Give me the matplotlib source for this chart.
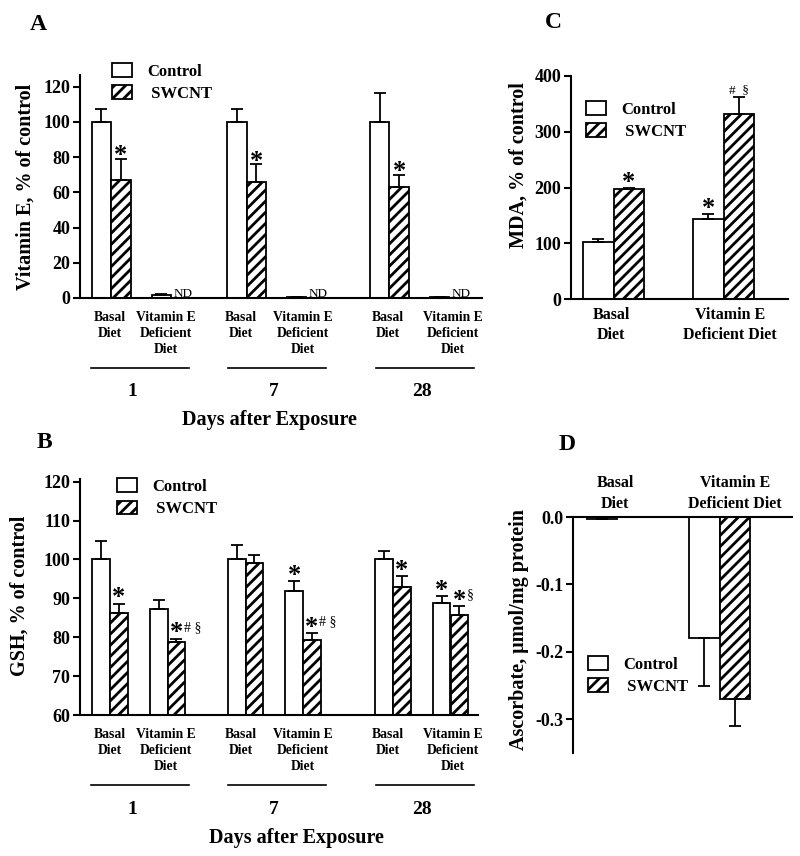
import numpy as np
import matplotlib
matplotlib.use('Agg')
import matplotlib.pyplot as plt
from matplotlib.patches import Patch
from matplotlib.lines import Line2D

plt.rcParams['font.family'] = ['Liberation Serif', 'DejaVu Serif']
plt.rcParams['font.weight'] = 'bold'
plt.rcParams['hatch.linewidth'] = 2.0
plt.rcParams['axes.linewidth'] = 1.5

# ---- data ----
days = ['1', '7', '28']
diet_labels = ['Basal\nDiet', 'Vitamin E\nDeficient\nDiet']

# A: vitamin E, % of control
vite_ctrl_basal = [100, 100, 100]
vite_ctrl_basal_err = [7.4, 7.4, 16.5]
vite_swcnt_basal = [67, 66, 63]
vite_swcnt_basal_err = [12, 10, 7]
vite_ctrl_def = [1.5, 0.3, 0.3]
vite_ctrl_def_err = [0.6, 0, 0]
# SWCNT + vitamin E deficient diet: ND (not detected)

# B: GSH, % of control
gsh_ctrl_basal = [100, 100, 100]
gsh_ctrl_basal_err = [4.7, 3.6, 2.1]
gsh_swcnt_basal = [86.3, 99.2, 92.8]
gsh_swcnt_basal_err = [2.3, 1.9, 3.0]
gsh_ctrl_def = [87.3, 91.8, 88.8]
gsh_ctrl_def_err = [2.4, 2.6, 1.7]
gsh_swcnt_def = [78.8, 79.2, 85.7]
gsh_swcnt_def_err = [0.8, 1.9, 2.3]

# C: MDA, % of control
mda_diets = ['Basal\nDiet', 'Vitamin E\nDeficient Diet']
mda_ctrl = [102, 143]
mda_ctrl_err = [5, 10]
mda_swcnt = [197, 332]
mda_swcnt_err = [3, 30]

# D: ascorbate, umol/mg protein
asc_ctrl = [-0.003, -0.18]
asc_ctrl_err = [0, 0.07]
asc_swcnt = [0, -0.27]
asc_swcnt_err = [0, 0.04]

# ---- layout helpers (pixel based) ----
W, H = 800, 856
fig = plt.figure(figsize=(W / 100, H / 100), dpi=100)


def px_axes(left, top, right, bottom):
    ax = fig.add_axes([left / W, 1 - bottom / H, (right - left) / W, (bottom - top) / H])
    ax.set_xlim(left, right)
    return ax


def ftext(x, y, s, **kw):
    fig.text(x / W, 1 - y / H, s, **kw)


def fline(x0, x1, y):
    fig.add_artist(Line2D([x0 / W, x1 / W], [1 - y / H, 1 - y / H],
                          transform=fig.transFigure, color='black', lw=1.2))


def bars(ax, x, vals, errs, w, hatch=None, down=False):
    ax.bar(x, vals, w, color='white', edgecolor='black', lw=1.3, hatch=hatch, zorder=2)
    z = [0] * len(errs)
    yerr = [errs, z] if down else [z, errs]
    ax.errorbar(x, vals, yerr=yerr, fmt='none', ecolor='black', elinewidth=1.3,
                capsize=4, capthick=1.3, zorder=3)


def star(ax, x, y, dy, extra=None, size=19):
    ax.annotate('*', (x, y), xytext=(0, dy), textcoords='offset points',
                ha='center', va='baseline', fontsize=size, fontweight='bold')
    if extra:
        ax.annotate(extra, (x, y), xytext=(5.5, dy + 6), textcoords='offset points',
                    ha='left', va='baseline', fontsize=10, fontweight='normal')


def style(ax, labelsize=13):
    for s in ['top', 'right']:
        ax.spines[s].set_visible(False)
    ax.set_xticks([])
    ax.tick_params(axis='y', direction='out', length=5, width=1.5, labelsize=labelsize, pad=2)


def legend(ax, x, y):
    handles = [Patch(facecolor='white', edgecolor='black', lw=1.3),
               Patch(facecolor='white', edgecolor='black', lw=1.3, hatch='///')]
    ax.legend(handles, ['Control', ' SWCNT'], loc='upper left',
              bbox_to_anchor=(x / W, 1 - y / H), bbox_transform=fig.transFigure,
              frameon=False, borderpad=0, borderaxespad=0, handlelength=1.2,
              handleheight=0.9, handletextpad=0.9, labelspacing=0.35,
              prop={'size': 12, 'weight': 'bold'})


def day_labels(axis_bottom):
    basal_x = [110, 241, 388]
    def_x = [166, 303, 453]
    spans = [(91, 189), (228, 326), (376, 474)]
    day_x = [132, 274, 422]
    for i in range(3):
        ftext(basal_x[i], axis_bottom + 13, diet_labels[0], ha='center', va='top',
              fontsize=9.8, linespacing=1.3)
        ftext(def_x[i], axis_bottom + 13, diet_labels[1], ha='center', va='top',
              fontsize=9.8, linespacing=1.3)
        fline(spans[i][0], spans[i][1], axis_bottom + 70)
        ftext(day_x[i], axis_bottom + 94, days[i], ha='center', va='center', fontsize=14)


# ---- Panel A ----
axA = px_axes(80, 75, 482, 298)
wA = 19.5
cA = np.array([111, 246.5, 389.5])
gapA = 60
bars(axA, cA - wA / 2, vite_ctrl_basal, vite_ctrl_basal_err, wA)
bars(axA, cA + wA / 2, vite_swcnt_basal, vite_swcnt_basal_err, wA, hatch='///')
bars(axA, cA + gapA - wA / 2, vite_ctrl_def, vite_ctrl_def_err, wA)
for i in range(3):
    star(axA, cA[i] + wA / 2, vite_swcnt_basal[i] + vite_swcnt_basal_err[i], -2.5)
    axA.annotate('ND', (cA[i] + gapA + wA / 2 + 2, 0), xytext=(0, 1), textcoords='offset points',
                 ha='center', va='baseline', fontsize=9.5, fontweight='normal')
axA.set_ylim(0, 126.7)
axA.set_yticks(range(0, 121, 20))
style(axA)
legend(axA, 112, 63)
day_labels(298)
ftext(269, 420, 'Days after Exposure', ha='center', va='center', fontsize=14.5)
ftext(26, 187, 'Vitamin E, % of control', rotation=90, ha='center', va='center', fontsize=14.5)
ftext(38, 25, 'A', ha='center', va='center', fontsize=17)

# ---- Panel B ----
axB = px_axes(80, 479, 478, 715)
wB = 17.7
cB = np.array([110, 245.5, 393])
gapB = 57.5
bars(axB, cB - wB / 2, gsh_ctrl_basal, gsh_ctrl_basal_err, wB)
bars(axB, cB + wB / 2, gsh_swcnt_basal, gsh_swcnt_basal_err, wB, hatch='///')
bars(axB, cB + gapB - wB / 2, gsh_ctrl_def, gsh_ctrl_def_err, wB)
bars(axB, cB + gapB + wB / 2, gsh_swcnt_def, gsh_swcnt_def_err, wB, hatch='///')
sw_b_top = np.add(gsh_swcnt_basal, gsh_swcnt_basal_err)
ct_d_top = np.add(gsh_ctrl_def, gsh_ctrl_def_err)
sw_d_top = np.add(gsh_swcnt_def, gsh_swcnt_def_err)
star(axB, cB[0] + wB / 2, sw_b_top[0], -0.5)
star(axB, cB[2] + wB / 2, sw_b_top[2], -0.5)
star(axB, cB[1] + gapB - wB / 2, ct_d_top[1], -0.5)
star(axB, cB[2] + gapB - wB / 2, ct_d_top[2], -0.5)
star(axB, cB[0] + gapB + wB / 2, sw_d_top[0], -0.5, extra='# §')
star(axB, cB[1] + gapB + wB / 2, sw_d_top[1], -0.5, extra='# §')
star(axB, cB[2] + gapB + wB / 2, sw_d_top[2], -0.5, extra='§')
axB.set_ylim(60, 120.7)
axB.set_yticks(range(60, 121, 10))
style(axB)
legend(axB, 117, 478)
day_labels(715)
ftext(296, 838, 'Days after Exposure', ha='center', va='center', fontsize=14.5)
ftext(20, 596, 'GSH, % of control', rotation=90, ha='center', va='center', fontsize=14.5)
ftext(44, 442, 'B', ha='center', va='center', fontsize=17)

# ---- Panel C ----
axC = px_axes(571, 76, 788, 299)
wC = 30.5
cC = np.array([613.5, 723.5])
bars(axC, cC - wC / 2, mda_ctrl, mda_ctrl_err, wC)
bars(axC, cC + wC / 2, mda_swcnt, mda_swcnt_err, wC, hatch='///')
star(axC, cC[0] + wC / 2, mda_swcnt[0] + mda_swcnt_err[0], -1)
star(axC, cC[1] - wC / 2, mda_ctrl[1] + mda_ctrl_err[1], -1)
axC.annotate('#  §', (cC[1] + wC / 2, mda_swcnt[1] + mda_swcnt_err[1]), xytext=(0, 3),
             textcoords='offset points', ha='center', va='baseline', fontsize=9.5,
             fontweight='normal')
axC.set_ylim(0, 400)
axC.set_yticks(range(0, 401, 100))
style(axC)
legend(axC, 586, 101)
ftext(611, 307, mda_diets[0], ha='center', va='top', fontsize=11.5, linespacing=1.35)
ftext(730, 307, mda_diets[1], ha='center', va='top', fontsize=11.5, linespacing=1.35)
ftext(519, 165, 'MDA, % of control', rotation=90, ha='center', va='center', fontsize=14.5)
ftext(553, 23, 'C', ha='center', va='center', fontsize=17)

# ---- Panel D ----
axD = px_axes(573, 517, 792, 753)
wD = 30.5
cD = np.array([617, 719.5])
bars(axD, cD - wD / 2, asc_ctrl, asc_ctrl_err, wD, down=True)
bars(axD, cD + wD / 2, asc_swcnt, asc_swcnt_err, wD, hatch='///', down=True)
axD.set_ylim(-0.35, 0)
axD.set_yticks([0, -0.1, -0.2, -0.3])
axD.set_yticklabels(['0.0', '-0.1', '-0.2', '-0.3'])
style(axD)
axD.spines['top'].set_visible(True)
axD.spines['bottom'].set_visible(False)
legend(axD, 588, 656)
ftext(615, 475, mda_diets[0], ha='center', va='top', fontsize=11.5, linespacing=1.4)
ftext(735, 475, mda_diets[1], ha='center', va='top', fontsize=11.5, linespacing=1.4)
ftext(519, 629, 'Ascorbate, μmol/mg protein', rotation=90, ha='center', va='center',
      fontsize=14.5)
ftext(567, 445, 'D', ha='center', va='center', fontsize=17)

fig.savefig('out.png', dpi=100)
